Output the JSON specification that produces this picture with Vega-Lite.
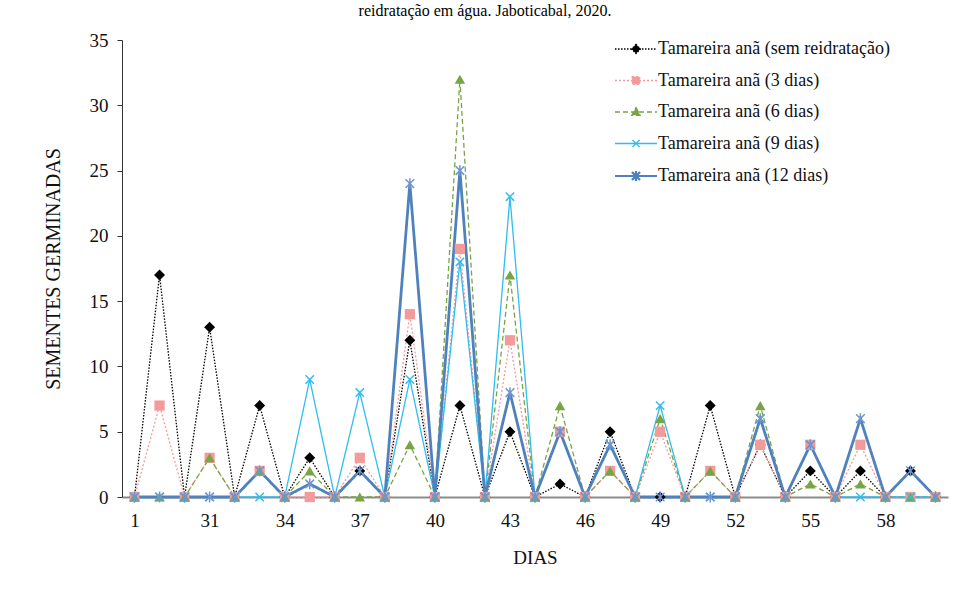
{
  "$schema": "https://vega.github.io/schema/vega-lite/v6.json",
  "width": 826,
  "height": 457,
  "autosize": {"type": "none"},
  "padding": {"left": 122, "top": 40, "right": 7, "bottom": 108},
  "background": "white",
  "config": {"view": {"stroke": null}, "font": "Liberation Serif"},
  "title": {"text": "reidratação em água. Jaboticabal, 2020.", "frame": "group", "anchor": "middle", "offset": 12, "dx": -50, "font": "Liberation Serif", "fontSize": 16, "fontWeight": "normal", "color": "#000000"},
  "data": {"values": [
    {"dia": "1", "s0": 0, "s3": 0, "s6": 0, "s9": 0, "s12": 0},
    {"dia": "29", "s0": 17, "s3": 7, "s6": 0, "s9": 0, "s12": 0},
    {"dia": "30", "s0": 0, "s3": 0, "s6": 0, "s9": 0, "s12": 0},
    {"dia": "31", "s0": 13, "s3": 3, "s6": 3, "s9": 0, "s12": 0},
    {"dia": "32", "s0": 0, "s3": 0, "s6": 0, "s9": 0, "s12": 0},
    {"dia": "33", "s0": 7, "s3": 2, "s6": 2, "s9": 0, "s12": 2},
    {"dia": "34", "s0": 0, "s3": 0, "s6": 0, "s9": 0, "s12": 0},
    {"dia": "35", "s0": 3, "s3": 0, "s6": 2, "s9": 9, "s12": 1},
    {"dia": "36", "s0": 0, "s3": 0, "s6": 0, "s9": 0, "s12": 0},
    {"dia": "37", "s0": 2, "s3": 3, "s6": 0, "s9": 8, "s12": 2},
    {"dia": "38", "s0": 0, "s3": 0, "s6": 0, "s9": 0, "s12": 0},
    {"dia": "39", "s0": 12, "s3": 14, "s6": 4, "s9": 9, "s12": 24},
    {"dia": "40", "s0": 0, "s3": 0, "s6": 0, "s9": 0, "s12": 0},
    {"dia": "41", "s0": 7, "s3": 19, "s6": 32, "s9": 18, "s12": 25},
    {"dia": "42", "s0": 0, "s3": 0, "s6": 0, "s9": 0, "s12": 0},
    {"dia": "43", "s0": 5, "s3": 12, "s6": 17, "s9": 23, "s12": 8},
    {"dia": "44", "s0": 0, "s3": 0, "s6": 0, "s9": 0, "s12": 0},
    {"dia": "45", "s0": 1, "s3": 5, "s6": 7, "s9": 5, "s12": 5},
    {"dia": "46", "s0": 0, "s3": 0, "s6": 0, "s9": 0, "s12": 0},
    {"dia": "47", "s0": 5, "s3": 2, "s6": 2, "s9": 4, "s12": 4},
    {"dia": "48", "s0": 0, "s3": 0, "s6": 0, "s9": 0, "s12": 0},
    {"dia": "49", "s0": 0, "s3": 5, "s6": 6, "s9": 7, "s12": 0},
    {"dia": "50", "s0": 0, "s3": 0, "s6": 0, "s9": 0, "s12": 0},
    {"dia": "51", "s0": 7, "s3": 2, "s6": 2, "s9": 0, "s12": 0},
    {"dia": "52", "s0": 0, "s3": 0, "s6": 0, "s9": 0, "s12": 0},
    {"dia": "53", "s0": 4, "s3": 4, "s6": 7, "s9": 6, "s12": 6},
    {"dia": "54", "s0": 0, "s3": 0, "s6": 0, "s9": 0, "s12": 0},
    {"dia": "55", "s0": 2, "s3": 4, "s6": 1, "s9": 4, "s12": 4},
    {"dia": "56", "s0": 0, "s3": 0, "s6": 0, "s9": 0, "s12": 0},
    {"dia": "57", "s0": 2, "s3": 4, "s6": 1, "s9": 0, "s12": 6},
    {"dia": "58", "s0": 0, "s3": 0, "s6": 0, "s9": 0, "s12": 0},
    {"dia": "59", "s0": 2, "s3": 0, "s6": 0, "s9": 0, "s12": 2},
    {"dia": "60", "s0": 0, "s3": 0, "s6": 0, "s9": 0, "s12": 0}
  ]},
  "transform": [{"fold": ["s0", "s3", "s6", "s9", "s12"], "as": ["key", "valor"]}],
  "encoding": {
    "x": {"field": "dia", "type": "ordinal", "sort": null,
      "scale": {"type": "point", "padding": 0.5},
      "axis": {"title": "DIAS", "values": ["1", "31", "34", "37", "40", "43", "46", "49", "52", "55", "58"],
        "labelAngle": 0, "labelFont": "Liberation Serif", "labelFontSize": 19, "labelColor": "#111111", "labelPadding": 14,
        "ticks": false, "domainColor": "#8c8c8c", "domainWidth": 2, "grid": false,
        "titleFont": "Liberation Serif", "titleFontSize": 19, "titleFontWeight": "normal", "titleColor": "#111111", "titlePadding": 18}},
    "y": {"field": "valor", "type": "quantitative",
      "scale": {"domain": [0, 35], "nice": false},
      "axis": {"title": "SEMENTES GERMINADAS", "values": [0, 5, 10, 15, 20, 25, 30, 35],
        "labelFont": "Liberation Serif", "labelFontSize": 19, "labelColor": "#111111", "labelPadding": 9,
        "tickSize": 5, "tickColor": "#333333", "domainColor": "#333333", "grid": false,
        "titleFont": "Liberation Serif", "titleFontSize": 20, "titleFontWeight": "normal", "titleColor": "#111111", "titlePadding": 26}}
  },
  "layer": [
    {
      "mark": {"type": "line", "strokeCap": "butt"},
      "encoding": {
        "color": {"field": "key", "type": "nominal",
          "scale": {"domain": ["s0", "s3", "s6", "s9", "s12"], "range": ["#000000", "#F59A9A", "#77A444", "#2FBDEE", "#4F81BD"]},
          "legend": {"title": null, "orient": "none", "legendX": 505, "legendY": 0,
            "labelExpr": "datum.value === 's0' ? 'Tamareira anã (sem reidratação)' : datum.value === 's3' ? 'Tamareira anã (3 dias)' : datum.value === 's6' ? 'Tamareira anã (6 dias)' : datum.value === 's9' ? 'Tamareira anã (9 dias)' : 'Tamareira anã (12 dias)'",
            "labelFont": "Liberation Serif", "labelFontSize": 18, "labelColor": "#111111", "labelOffset": 13, "labelLimit": 400,
            "symbolSize": 900, "rowPadding": 13.5, "padding": 0,
            "encode": {"symbols": {"update": {
              "shape": {"signal": "datum.value === 's0' ? 'M-1.4,0L1.4,0M0,-0.3L0.3,0L0,0.3L-0.3,0Z' : datum.value === 's3' ? 'M-1.4,0L1.4,0M-0.25,-0.25L0.25,-0.25L0.25,0.25L-0.25,0.25Z' : datum.value === 's6' ? 'M-1.4,0L1.4,0M0,-0.3L0.28,0.22L-0.28,0.22Z' : datum.value === 's9' ? 'M-1.4,0L1.4,0M-0.24,-0.24L0.24,0.24M-0.24,0.24L0.24,-0.24' : 'M-1.4,0L1.4,0M-0.27,-0.27L0.27,0.27M-0.27,0.27L0.27,-0.27M0,-0.33L0,0.33'"},
              "fill": {"scale": "color", "field": "value"},
              "strokeWidth": {"signal": "datum.value === 's12' ? 2.2 : 1.3"},
              "opacity": {"value": 1}
            }}}}},
        "strokeDash": {"field": "key", "type": "nominal",
          "scale": {"domain": ["s0", "s3", "s6", "s9", "s12"], "range": [[1.5, 1.5], [2, 2], [5, 3], [1, 0], [1, 0]]},
          "legend": {"title": null, "orient": "none", "legendX": 505, "legendY": 0}},
        "strokeWidth": {"condition": {"test": "datum.key === 's12'", "value": 2.8}, "value": 1.3}
      }
    },
    {
      "transform": [{"filter": "datum.key === 's0'"}],
      "mark": {"type": "point", "shape": "diamond", "filled": true, "color": "#000000", "opacity": 1, "size": 120}
    },
    {
      "transform": [{"filter": "datum.key === 's3'"}],
      "mark": {"type": "point", "shape": "square", "filled": true, "color": "#F59A9A", "opacity": 1, "size": 105}
    },
    {
      "transform": [{"filter": "datum.key === 's6'"}],
      "mark": {"type": "point", "shape": "triangle-up", "filled": true, "color": "#77A444", "opacity": 1, "size": 110}
    },
    {
      "transform": [{"filter": "datum.key === 's9'"}],
      "mark": {"type": "point", "shape": "M-1,-1L1,1M-1,1L1,-1", "filled": false, "color": "#2FBDEE", "opacity": 1, "strokeWidth": 1.5, "size": 70}
    },
    {
      "transform": [{"filter": "datum.key === 's12'"}],
      "mark": {"type": "point", "shape": "M-1,-1L1,1M-1,1L1,-1M0,-1.25L0,1.25", "filled": false, "color": "#6F95D0", "opacity": 1, "strokeWidth": 1.5, "size": 75}
    }
  ]
}
